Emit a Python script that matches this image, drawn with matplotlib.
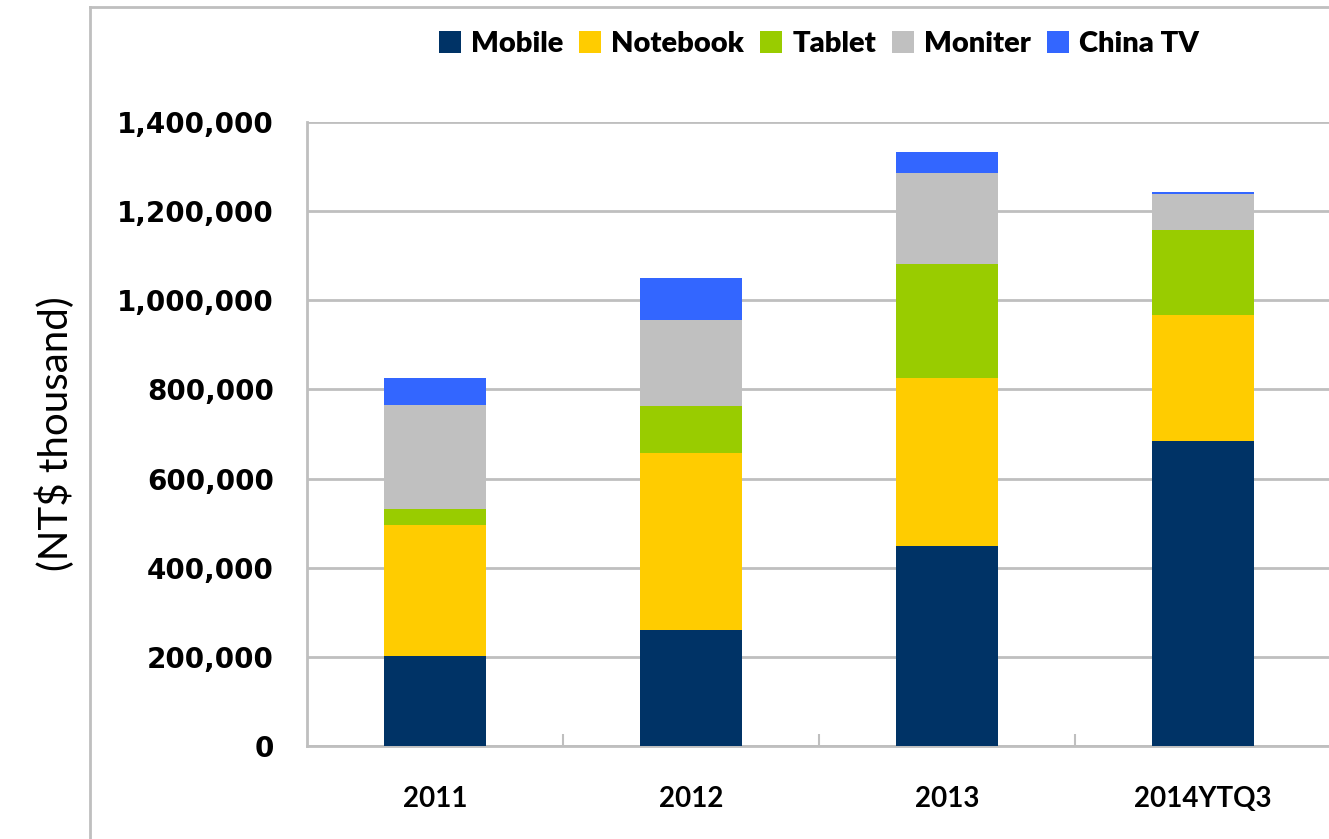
import matplotlib.pyplot as plt
import numpy as np
from matplotlib.lines import Line2D
from matplotlib.ticker import FuncFormatter

# values (NT$ thousand)
years = ["2011", "2012", "2013", "2014YTQ3"]
mobile = [202000, 260000, 449000, 684000]
notebook = [294000, 397000, 377000, 283000]
tablet = [36000, 106000, 255000, 191000]
moniter = [233000, 193000, 205000, 80000]
china_tv = [61000, 94000, 47000, 5000]

series = ["Mobile", "Notebook", "Tablet", "Moniter", "China TV"]
colors = ["#003366", "#FFCC00", "#99CC00", "#C0C0C0", "#3366FF"]

narrow = ["Lato", "DejaVu Sans"]

W, H = 1329, 839
fig = plt.figure(figsize=(W / 100, H / 100), dpi=100)
ax = fig.add_axes([307 / W, (H - 746) / H, (1331 - 307) / W, (746 - 122) / H])

x = np.arange(len(years))
bottom = np.zeros(len(years))
for name, vals, c in zip(series, [mobile, notebook, tablet, moniter, china_tv], colors):
    ax.bar(x, vals, width=0.4, bottom=bottom, color=c, label=name, zorder=3)
    bottom += np.array(vals)

ax.set_xlim(-0.5, len(years) - 0.5)
ax.set_ylim(0, 1400000)
ax.set_yticks(np.arange(0, 1400001, 200000))
ax.yaxis.set_major_formatter(FuncFormatter(lambda v, p: f"{int(v):,}"))
ax.grid(axis="y", color="#BFBFBF", linewidth=2, zorder=0)
ax.tick_params(axis="y", length=0, pad=24, labelsize=20)
for lab in ax.get_yticklabels():
    lab.set_fontweight("bold")
    lab.set_family("DejaVu Sans")

ax.set_xticks(x)
ax.set_xticklabels(years, fontsize=20, fontweight="bold", family=narrow)
ax.tick_params(axis="x", length=0, pad=29)
# category separator ticks pointing up from the base line
ax.set_xticks(np.arange(0.5, len(years) - 1), minor=True)
ax.tick_params(axis="x", which="minor", direction="in", length=9, width=1.5, color="#BFBFBF")

for side in ["top", "right"]:
    ax.spines[side].set_visible(False)
for side in ["left", "bottom"]:
    ax.spines[side].set_color("#BFBFBF")
    ax.spines[side].set_linewidth(2)

ax.set_ylabel("(NT$ thousand)", fontsize=29, family=narrow, labelpad=30)

fig.legend(loc="center", bbox_to_anchor=(819 / W, 1 - 44 / H), ncol=5, frameon=False,
           handlelength=0.75, handleheight=0.75, handletextpad=0.35, columnspacing=0.55,
           prop={"family": narrow, "weight": "heavy", "size": 21})

# outer chart-area border
fig.add_artist(Line2D([90 / W, 90 / W], [0, 1 - 7 / H], color="#BFBFBF", linewidth=2))
fig.add_artist(Line2D([90 / W, 1], [1 - 7 / H, 1 - 7 / H], color="#BFBFBF", linewidth=2))

fig.savefig("out.png", dpi=100)
